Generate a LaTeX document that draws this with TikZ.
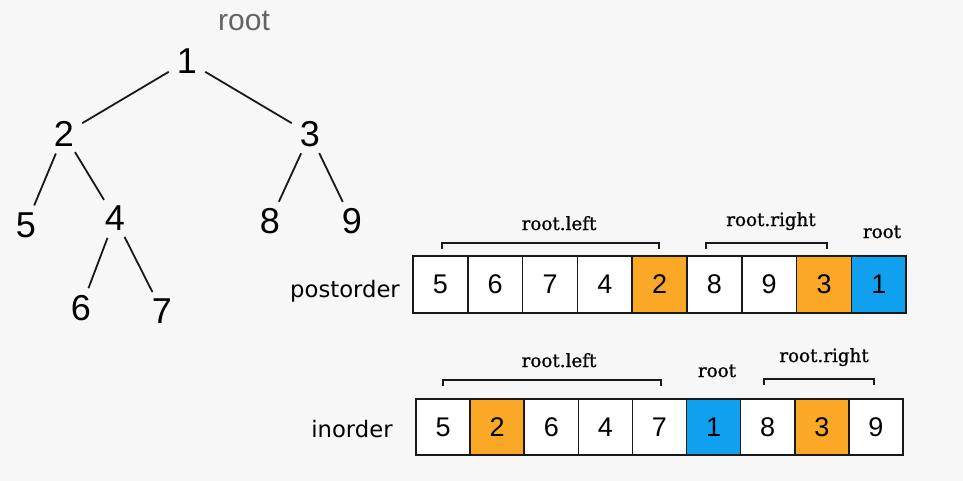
\documentclass[tikz,border=0pt]{standalone}
\usepackage{fontspec}
\setmainfont{DejaVu Serif}
\newfontfamily\digitfont{Liberation Sans}
\newfontfamily\lblfont{DejaVu Sans}
\newfontfamily\serfont[FakeBold=1]{DejaVu Serif}
\definecolor{bgc}{RGB}{247,247,247}
\definecolor{orng}{RGB}{250,168,37}
\definecolor{blu}{RGB}{16,160,240}
\definecolor{greytxt}{RGB}{100,100,100}
\begin{document}
\begin{tikzpicture}[x=1pt,y=-1pt,
  tnode/.style={circle,inner sep=0pt,minimum size=42pt,font=\digitfont\fontsize{36}{36}\selectfont},
  edge/.style={line width=1.8pt,black!90},
  cell/.style={draw=black!90,line width=1.6pt,inner sep=0pt,font=\digitfont\fontsize{27}{27}\selectfont},
  pcell/.style={cell,minimum width=54.8pt,minimum height=57pt},
  icell/.style={cell,minimum width=54.1pt,minimum height=56pt},
  rowlbl/.style={anchor=base,font=\lblfont\fontsize{22.7}{22.7}\selectfont},
  brlbl/.style={anchor=base,font=\serfont\fontsize{18.3}{18.3}\selectfont},
  bracket/.style={line width=1.3pt,black!90}]
\fill[bgc] (0,0) rectangle (963,481);
\useasboundingbox (0,0) rectangle (963,481);
% tree
\node[anchor=base,text=greytxt,font=\digitfont\fontsize{30}{30}\selectfont] (rootlbl) at (244,31) {root};
\node[tnode] (t1) at (187,61) {1};
\node[tnode] (t2) at (64,134) {2};
\node[tnode] (t3) at (310,134) {3};
\node[tnode] (t5) at (26,225) {5};
\node[tnode] (t4) at (115,218) {4};
\node[tnode] (t8) at (270,221) {8};
\node[tnode] (t9) at (352,221) {9};
\node[tnode] (t6) at (81,308) {6};
\node[tnode] (t7) at (162,311) {7};
\draw[edge] (t1) -- (t2);
\draw[edge] (t1) -- (t3);
\draw[edge] (t2) -- (t5);
\draw[edge] (t2) -- (t4);
\draw[edge] (t3) -- (t8);
\draw[edge] (t3) -- (t9);
\draw[edge] (t4) -- (t6);
\draw[edge] (t4) -- (t7);
% postorder
\node[rowlbl] (postlbl) at (345,297) {postorder};
\foreach \v/\c [count=\k] in {5/white,6/white,7/white,4/white,2/orng,8/white,9/white,3/orng,1/blu}
  \node[pcell,fill=\c] (p\k) at ({413+54.8*(\k-0.5)},284.5) {\v};
% inorder
\node[rowlbl] (inlbl) at (352,437) {inorder};
\foreach \v/\c [count=\k] in {5/white,2/orng,6/white,4/white,7/white,1/blu,8/white,3/orng,9/white}
  \node[icell,fill=\c] (i\k) at ({416+54.1*(\k-0.5)},427) {\v};
% brackets postorder
\coordinate (pla) at (442,243); \coordinate (plb) at (659,243);
\coordinate (pra) at (706,243); \coordinate (prb) at (827,243);
\draw[bracket] ([yshift=-6pt]pla) -- (pla) -- (plb) -- ([yshift=-6pt]plb);
\draw[bracket] ([yshift=-6pt]pra) -- (pra) -- (prb) -- ([yshift=-6pt]prb);
\node[brlbl] (plt) at (559,230) {root.left};
\node[brlbl] (prt) at (771,226) {root.right};
\node[brlbl] (prr) at (882,238) {root};
% brackets inorder
\coordinate (ila) at (443,380); \coordinate (ilb) at (661,380);
\coordinate (ira) at (764,379); \coordinate (irb) at (874,379);
\draw[bracket] ([yshift=-6pt]ila) -- (ila) -- (ilb) -- ([yshift=-6pt]ilb);
\draw[bracket] ([yshift=-6pt]ira) -- (ira) -- (irb) -- ([yshift=-6pt]irb);
\node[brlbl] (ilt) at (559,367) {root.left};
\node[brlbl] (irr) at (717,377) {root};
\node[brlbl] (irt) at (824,362) {root.right};
\end{tikzpicture}
\end{document}
